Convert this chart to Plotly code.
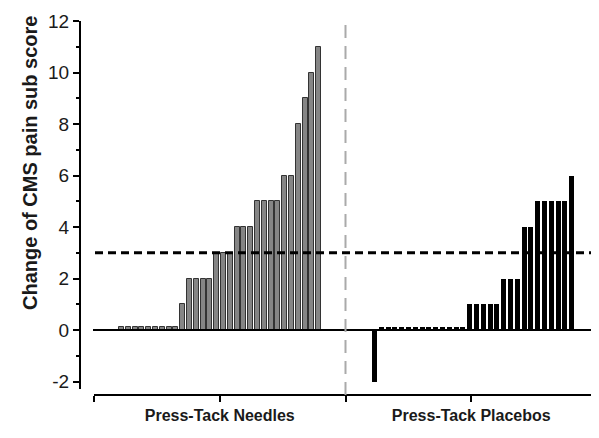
import plotly.graph_objects as go

# ---- data ----
# zero-change subjects are drawn as tiny stubs (~0.1) in the original figure
needles = [0.1, 0.1, 0.1, 0.1, 0.1, 0.1, 0.1, 0.1, 0.1,
           1,
           2, 2, 2, 2,
           3, 3, 3,
           4, 4, 4,
           5, 5, 5, 5,
           6, 6,
           8, 9, 10, 11]
placebos = [-2,
            0.1, 0.1, 0.1, 0.1, 0.1, 0.1, 0.1, 0.1, 0.1, 0.1, 0.1, 0.1, 0.1,
            1, 1, 1, 1, 1,
            2, 2, 2,
            4, 4,
            5, 5, 5, 5, 5,
            6]
group_labels = ["Press-Tack Needles", "Press-Tack Placebos"]
threshold = 3
y_ticks = [-2, 0, 2, 4, 6, 8, 10, 12]
y_tick_text = ["-2", "0", "2", "4", "6", "8", "10", "12"]
y_minor = [-1, 1, 3, 5, 7, 9, 11]
y_title = "Change of CMS pain sub score"

# ---- layout helpers (screen pixel coords; page body has an 8px margin) ----
OX, OY = 8, 8
W, H = 599 - OX, 438 - OY
ML, MR, MT, MB = 81 - OX, 0, 21 - OY, 438 - 400
plot_w = W - ML - MR
plot_h = H - MT - MB

def px_x(p):
    return (p - OX - ML) / plot_w

def px_y(p):
    return (OY + H - MB - p) / plot_h

pitch = 6.8
first_center = 121.5
right_offset = 37.2

x_left = list(range(len(needles)))
x_right = [right_offset + i for i in range(len(placebos))]

x_rng = [-(first_center - 81) / pitch, (599 - first_center) / pitch]

fig = go.Figure()
fig.add_trace(go.Bar(x=x_left, y=needles, width=0.72,
                     marker=dict(color="#858585", line=dict(color="#333333", width=1)),
                     showlegend=False))
fig.add_trace(go.Bar(x=x_right, y=placebos, width=0.74,
                     marker=dict(color="#000000", line=dict(width=0)),
                     showlegend=False))

font_family = "Liberation Sans, Arial, sans-serif"

fig.update_layout(
    width=W, height=H,
    margin=dict(l=ML, r=MR, t=MT, b=MB, pad=0),
    paper_bgcolor="white", plot_bgcolor="rgba(0,0,0,0)",
    font=dict(family=font_family, color="#1a1a1a"),
    bargap=0,
    xaxis=dict(range=x_rng, visible=False, showgrid=False, zeroline=False),
    xaxis2=dict(
        domain=[px_x(94), px_x(597)], anchor="free", position=px_y(395),
        range=[0, 2], tickvals=[0, 0.5, 1, 1.5, 2],
        ticktext=["", group_labels[0], "", group_labels[1], ""],
        showline=True, linecolor="black", linewidth=2,
        ticks="outside", ticklen=6, tickwidth=2, tickcolor="black",
        showgrid=False, zeroline=False,
        tickfont=dict(size=16, family=font_family, color="#1a1a1a", weight="bold"),
    ),
    yaxis=dict(
        domain=[px_y(388.5), 1], range=[-2.27, 12],
        tickvals=y_ticks, ticktext=y_tick_text,
        showline=True, linecolor="black", linewidth=2,
        ticks="outside", ticklen=6, tickwidth=2, tickcolor="black",
        minor=dict(tickvals=y_minor, ticks="outside", ticklen=3,
                   tickwidth=2, tickcolor="black"),
        showgrid=False, zeroline=False,
        tickfont=dict(size=19, family=font_family, color="#1a1a1a"),
    ),
    annotations=[
        dict(text=y_title, textangle=-90, showarrow=False,
             xref="paper", yref="paper", x=px_x(30), y=px_y(163),
             xanchor="center", yanchor="middle",
             font=dict(size=20, family=font_family, color="#1a1a1a", weight="bold")),
    ],
    shapes=[
        dict(type="line", xref="paper", yref="y", x0=px_x(93), x1=1, y0=0, y1=0,
             line=dict(color="black", width=2), layer="above"),
        dict(type="line", xref="paper", yref="y", x0=px_x(95), x1=1,
             y0=threshold, y1=threshold,
             line=dict(color="black", width=3, dash="8px,5px"), layer="above"),
        dict(type="line", xref="x2", yref="paper", x0=1, x1=1,
             y0=px_y(395), y1=1,
             line=dict(color="#aaaaaa", width=2, dash="13px,8px"), layer="above"),
    ],
)

fig.write_html("out.html")
